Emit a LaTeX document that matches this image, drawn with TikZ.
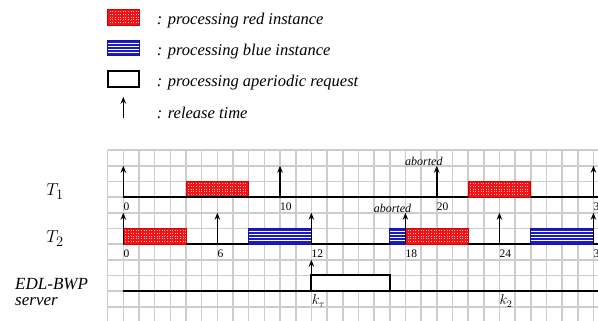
\documentclass[tikz,border=0pt]{standalone}
\usepackage{fontspec}
\setmainfont{Liberation Serif}
\usetikzlibrary{arrows.meta}
\definecolor{gridc}{RGB}{205,205,205}
\definecolor{redc}{RGB}{240,20,25}
\definecolor{bluec}{RGB}{25,25,200}
\tikzset{
  gridline/.style={draw=gridc,line width=1.6pt},
  baseln/.style={draw=black,line width=1.8pt},
  rel/.style={draw=black,line width=1.6pt,-{Stealth[length=7pt,width=5.5pt]}},
  ticklbl/.style={font=\fontsize{11.5}{13}\selectfont,anchor=north west,inner sep=0pt},
  abtlbl/.style={font=\fontsize{12}{13}\selectfont\itshape,anchor=east,inner sep=0pt},
  legtext/.style={font=\fontsize{16.5}{18}\selectfont\itshape,anchor=west,inner sep=0pt},
  rowlbl/.style={font=\fontsize{19}{22}\selectfont,inner sep=0pt},
  srvlbl/.style={font=\fontsize{17}{19}\selectfont\itshape,anchor=west,inner sep=0pt},
  klbl/.style={font=\fontsize{14}{16}\selectfont,anchor=west,inner sep=0pt},
  apbox/.style={draw=black,line width=1.8pt,fill=white},
}
% red dotted box: #1 t-start, #2 t-end, #3 top y, #4 bottom y
\newcommand{\redbox}[4]{%
  \fill[redc] (#1,#3) rectangle (#2,#4);
  \begin{scope}
    \clip (#1,#3) rectangle (#2,#4);
    \foreach \k in {1,...,30} {%
      \foreach \m in {1,...,5} {%
        \fill[white!70!redc] ({#1+0.166*\k-0.03},{#3+2.6*\m-0.5}) rectangle ({#1+0.166*\k+0.03},{#3+2.6*\m+0.5});
      }%
    }
  \end{scope}
  \draw[red!85!black,line width=0.9pt] (#1,#3) rectangle (#2,#4);
}
\newcommand{\bluebox}[4]{%
  \fill[bluec] (#1,#3) rectangle (#2,#4);
  \foreach \k in {1,...,4} {\draw[white,line width=0.9pt] (#1,{#3+3.1*\k}) -- (#2,{#3+3.1*\k});}
  \draw[bluec!80!black,line width=0.9pt] (#1,#3) rectangle (#2,#4);
}
\begin{document}
\begin{tikzpicture}[x=15.667pt,y=-1pt]
\useasboundingbox[fill=white] (-7.870,0) rectangle (30.29,320);

% ---------- legend ----------
\redbox{-1}{1}{9.3}{25}
\node[legtext] (l1) at (2.13,20.3) {: processing red instance};
\bluebox{-1}{1}{40}{55}
\node[legtext] (l2) at (2.13,51.3) {: processing blue instance};
\draw[apbox] (-1,71) rectangle (1,87);
\node[legtext] (l3) at (2.13,82.3) {: processing aperiodic request};
\coordinate (la0) at (0,118.3);
\coordinate (la1) at (0,96.7);
\draw[rel] (la0) -- (la1);
\node[legtext] (l4) at (2.13,113) {: release time};

% ---------- grid ----------
\foreach \t in {-1,...,31} {\draw[gridline] (\t,150) -- (\t,322);}
\foreach \j in {0,...,11} {\draw[gridline] (-1,{150+15.667*\j}) -- (31,{150+15.667*\j});}

% ---------- T1 ----------
\redbox{4}{8}{181.33}{197}
\redbox{22}{26}{181.33}{197}
\draw[baseln] (0,197) -- (8,197);
\draw[baseln] (8,197) -- (22,197);
\draw[baseln] (26,197) -- (31,197);
\foreach \t in {0,10,20,30} {
  \coordinate (a1b\t) at (\t,197);
  \coordinate (a1t\t) at (\t,165.7);
  \draw[rel] (a1b\t) -- (a1t\t);
  \node[ticklbl] (n1\t) at (\t,202.5) {\t};
}
\node[abtlbl] (ab1) at (20.38,161.5) {aborted};
\node[rowlbl] (T1) at (-4.36,191.7) {$T_1$};

% ---------- T2 ----------
\redbox{0}{4}{228.33}{244}
\bluebox{8}{12}{228.33}{244}
\bluebox{17}{18}{228.33}{244}
\redbox{18}{22}{228.33}{244}
\bluebox{26}{30}{228.33}{244}
\draw[baseln] (4,244) -- (8,244);
\draw[baseln] (12,244) -- (17,244);
\draw[baseln] (22,244) -- (26,244);
\draw[baseln] (30,244) -- (31,244);
\foreach \t in {0,6,12,18,24,30} {
  \coordinate (a2b\t) at (\t,244);
  \coordinate (a2t\t) at (\t,212.7);
  \draw[rel] (a2b\t) -- (a2t\t);
  \node[ticklbl] (n2\t) at (\t,249.5) {\t};
}
\node[abtlbl] (ab2) at (18.38,208.5) {aborted};
\node[rowlbl] (T2) at (-4.36,238.7) {$T_2$};

% ---------- server ----------
\draw[apbox] (12,275.33) rectangle (17,291);
\draw[baseln] (0,291) -- (31,291);
\coordinate (a3b) at (12,291);
\coordinate (a3t) at (12,259.7);
\draw[rel] (a3b) -- (a3t);
\node[klbl] (k1) at (12.02,301) {$k_{\tau}$};
\node[klbl] (k2) at (24.0,301) {$k_2$};
\node[srvlbl] (s1) at (-6.91,284.3) {EDL-BWP};
\node[srvlbl] (s2) at (-6.91,302) {server};
\end{tikzpicture}
\end{document}
